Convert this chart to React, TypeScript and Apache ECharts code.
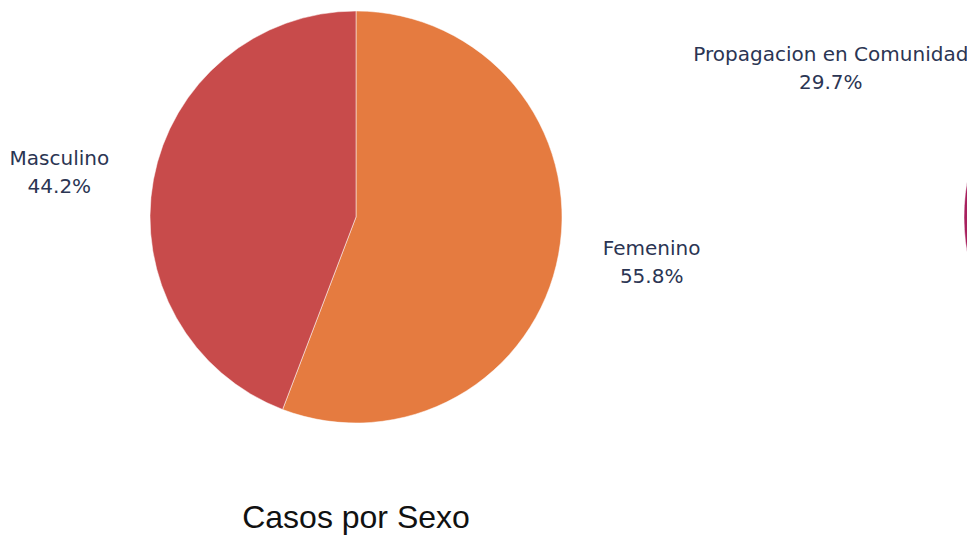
import React, { useEffect, useRef } from "react";
import * as echarts from "echarts";

const sexCategories = ["Femenino", "Masculino"];
const sexValues = [55.8, 44.2];
const sexColors = ["#E57B40", "#C84B4B"];

const spreadCategories = ["", "Propagacion en Comunidad"];
const spreadValues = [70.3, 29.7];
const spreadColors = ["#3D5A99", "#A8205E"];

const chartTitle = "Casos por Sexo";

const labelFont = "'DejaVu Sans', 'Open Sans', sans-serif";

const labelText = { fontFamily: labelFont, fontSize: 20, fontWeight: "normal", color: "#2B3553", align: "center", lineHeight: 28 };

const makeLabel = () => ({
  show: true,
  position: "outside" as const,
  alignTo: "none" as const,
  distanceToLabelLine: 0,
  formatter: "{n|{b}}\n{p|{d}%}",
  rich: { n: labelText, p: labelText },
});

export default function App() {
  const ref = useRef<HTMLDivElement>(null);
  useEffect(() => {
    if (!ref.current) return;
    const chart = echarts.init(ref.current, undefined, { renderer: "svg" });
    chart.setOption({
      animation: false,
      title: {
        text: chartTitle,
        left: 351,
        textAlign: "center",
        top: 496,
        textStyle: { fontFamily: "'Liberation Sans', Arial, sans-serif", fontSize: 32, fontWeight: "normal", color: "#111" },
      },
      series: [
        {
          type: "pie",
          center: [356, 217],
          radius: 206,
          startAngle: 90,
          clockwise: true,
          avoidLabelOverlap: false,
          label: makeLabel(),
          labelLine: { show: false, length: 45, length2: 0 },
          itemStyle: { borderColor: "#fff", borderWidth: 0.5 },
          emphasis: { disabled: true },
          data: sexCategories.map((name, i) => ({ name, value: sexValues[i], itemStyle: { color: sexColors[i] } })),
        },
        {
          type: "pie",
          center: [1170, 217],
          radius: 206,
          startAngle: 90,
          clockwise: true,
          avoidLabelOverlap: false,
          label: makeLabel(),
          labelLine: { show: false, length: 45, length2: 0 },
          itemStyle: { borderColor: "#fff", borderWidth: 0.5 },
          emphasis: { disabled: true },
          data: spreadCategories.map((name, i) => ({
            name,
            value: spreadValues[i],
            itemStyle: { color: spreadColors[i] },
            label: { show: name !== "" },
          })),
        },
      ],
    });
    return () => chart.dispose();
  }, []);
  return <div ref={ref} style={{ position: "absolute", left: 0, top: 0, width: 967, height: 535 }} />;
}
